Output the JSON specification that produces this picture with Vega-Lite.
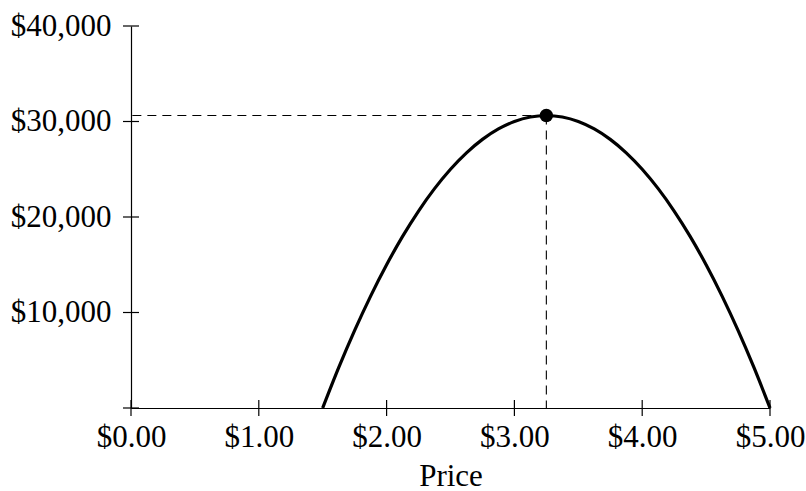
{
  "$schema": "https://vega.github.io/schema/vega-lite/v6.json",
  "width": 639,
  "height": 382,
  "autosize": {"type": "none"},
  "padding": {"left": 131, "top": 26, "right": 36, "bottom": 83},
  "background": "white",
  "config": {
    "view": {"stroke": null},
    "font": "Liberation Serif"
  },
  "datasets": {
    "revenue": [
      {"price": 1.5, "revenue": 0},
      {"price": 1.625, "revenue": 4218.75},
      {"price": 1.75, "revenue": 8125},
      {"price": 1.875, "revenue": 11718.75},
      {"price": 2.0, "revenue": 15000},
      {"price": 2.125, "revenue": 17968.75},
      {"price": 2.25, "revenue": 20625},
      {"price": 2.375, "revenue": 22968.75},
      {"price": 2.5, "revenue": 25000},
      {"price": 2.625, "revenue": 26718.75},
      {"price": 2.75, "revenue": 28125},
      {"price": 2.875, "revenue": 29218.75},
      {"price": 3.0, "revenue": 30000},
      {"price": 3.125, "revenue": 30468.75},
      {"price": 3.25, "revenue": 30625},
      {"price": 3.375, "revenue": 30468.75},
      {"price": 3.5, "revenue": 30000},
      {"price": 3.625, "revenue": 29218.75},
      {"price": 3.75, "revenue": 28125},
      {"price": 3.875, "revenue": 26718.75},
      {"price": 4.0, "revenue": 25000},
      {"price": 4.125, "revenue": 22968.75},
      {"price": 4.25, "revenue": 20625},
      {"price": 4.375, "revenue": 17968.75},
      {"price": 4.5, "revenue": 15000},
      {"price": 4.625, "revenue": 11718.75},
      {"price": 4.75, "revenue": 8125},
      {"price": 4.875, "revenue": 4218.75},
      {"price": 5.0, "revenue": 0}
    ],
    "optimum": [{"price": 3.25, "revenue": 30625}],
    "xticks": [{"price": 0}, {"price": 1}, {"price": 2}, {"price": 3}, {"price": 4}, {"price": 5}],
    "yticks": [{"revenue": 0}, {"revenue": 10000}, {"revenue": 20000}, {"revenue": 30000}, {"revenue": 40000}]
  },
  "layer": [
    {
      "data": {"name": "revenue"},
      "mark": {"type": "line", "interpolate": "monotone", "color": "black", "strokeWidth": 3.2},
      "encoding": {
        "x": {
          "field": "price", "type": "quantitative",
          "scale": {"domain": [0, 5], "nice": false},
          "axis": {
            "values": [0, 1, 2, 3, 4, 5],
            "format": "$.2f",
            "grid": false, "ticks": false,
            "domainColor": "black", "domainWidth": 1.2,
            "labelColor": "black", "labelFontSize": 31, "labelPadding": 14,
            "labelFlush": false,
            "title": "Price", "titleFontSize": 31, "titleFontWeight": "normal",
            "titleColor": "black", "titlePadding": 9
          }
        },
        "y": {
          "field": "revenue", "type": "quantitative",
          "scale": {"domain": [0, 40000], "nice": false},
          "axis": {
            "values": [0, 10000, 20000, 30000, 40000],
            "format": "$,.0f",
            "labelExpr": "datum.value == 0 ? '' : datum.label",
            "grid": false, "ticks": false,
            "domainColor": "black", "domainWidth": 1.2,
            "labelColor": "black", "labelFontSize": 31, "labelPadding": 20,
            "labelFlush": false,
            "title": null
          }
        }
      }
    },
    {
      "data": {"name": "optimum"},
      "mark": {"type": "rule", "color": "black", "strokeWidth": 1.1, "strokeDash": [9, 6]},
      "encoding": {
        "x": {"field": "price", "type": "quantitative"},
        "x2": {"datum": 0},
        "y": {"field": "revenue", "type": "quantitative"}
      }
    },
    {
      "data": {"name": "optimum"},
      "mark": {"type": "rule", "color": "black", "strokeWidth": 1.1, "strokeDash": [9, 6]},
      "encoding": {
        "x": {"field": "price", "type": "quantitative"},
        "y": {"field": "revenue", "type": "quantitative"},
        "y2": {"datum": 0}
      }
    },
    {
      "data": {"name": "xticks"},
      "mark": {"type": "tick", "orient": "vertical", "color": "black", "size": 16, "thickness": 1.2, "opacity": 1},
      "encoding": {
        "x": {"field": "price", "type": "quantitative"},
        "y": {"datum": 0, "type": "quantitative"}
      }
    },
    {
      "data": {"name": "yticks"},
      "mark": {"type": "tick", "orient": "horizontal", "color": "black", "size": 16, "thickness": 1.2, "opacity": 1},
      "encoding": {
        "x": {"datum": 0, "type": "quantitative"},
        "y": {"field": "revenue", "type": "quantitative"}
      }
    },
    {
      "data": {"name": "optimum"},
      "mark": {"type": "circle", "color": "black", "size": 180, "opacity": 1},
      "encoding": {
        "x": {"field": "price", "type": "quantitative"},
        "y": {"field": "revenue", "type": "quantitative"}
      }
    }
  ]
}
